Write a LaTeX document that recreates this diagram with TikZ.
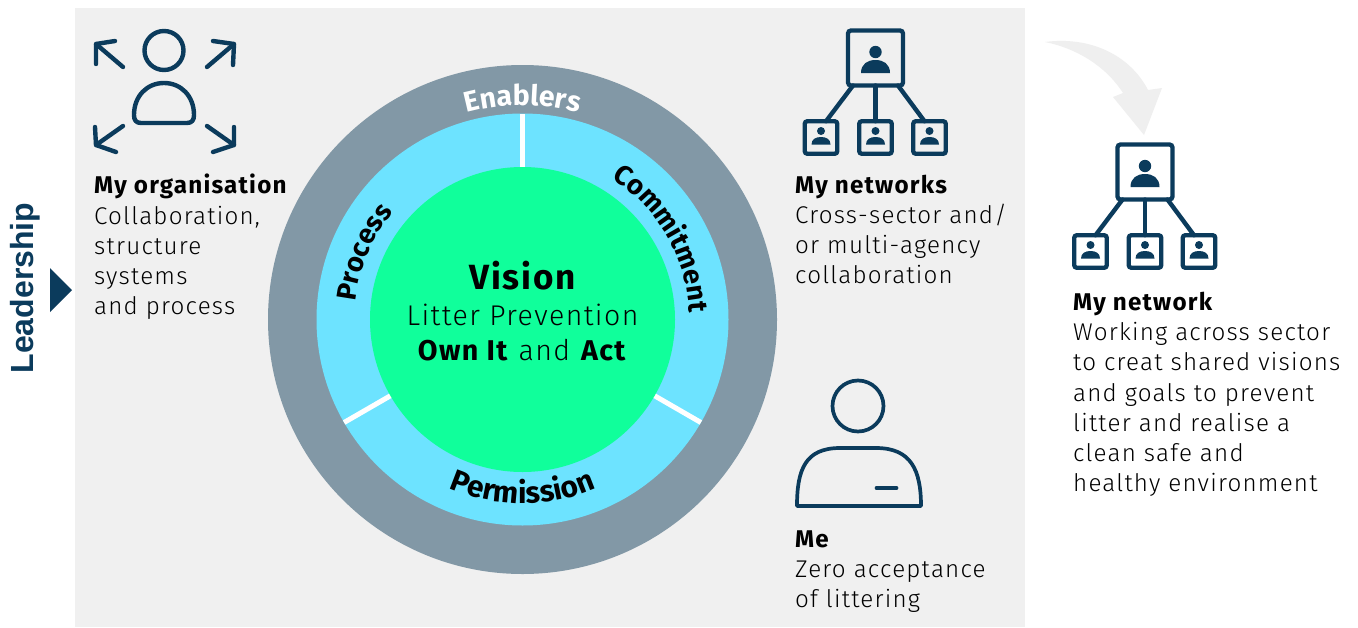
\documentclass[tikz,border=0pt]{standalone}
\usepackage{fontspec}
\setmainfont{Fira Sans}[UprightFont=* Light,BoldFont=* Bold,LetterSpace=5]
\newfontfamily\labfont{Fira Sans}[UprightFont=* Bold,LetterSpace=3]
\newfontfamily\leadfont{Liberation Sans}[UprightFont=* Bold]
\usetikzlibrary{decorations.text}
\definecolor{navy}{HTML}{0B3B5C}
\definecolor{panel}{HTML}{F0F0F0}
\definecolor{rim}{HTML}{8298A6}
\definecolor{ring}{HTML}{6DE3FF}
\definecolor{core}{HTML}{10FF9B}
\definecolor{swoosh}{HTML}{EFEFEF}
\tikzset{
  iconline/.style={draw=navy,line width=4.4pt,line cap=round,line join=round},
  bigbox/.style={draw=navy,line width=4.3pt,rounded corners=3pt,minimum size=55pt,inner sep=0pt,outer sep=0pt},
  smallbox/.style={draw=navy,line width=4.3pt,rounded corners=2.5pt,minimum size=32.5pt,inner sep=0pt,outer sep=0pt},
  blurb/.style={anchor=north west,inner sep=0pt,align=left,font=\fontsize{24.2}{30.2}\selectfont,text=black},
  netpic/.pic={
    \node[bigbox] (main) at (0,0) {};
    \node[smallbox] (a) at (-54.5,79.5) {};
    \node[smallbox] (b) at (0,79.5) {};
    \node[smallbox] (c) at (54,79.5) {};
    \draw[iconline] ([xshift=5pt]main.south west) -- ([xshift=5pt]a.north);
    \draw[iconline] (main.south) -- (b.north);
    \draw[iconline] ([xshift=-5pt]main.south east) -- ([xshift=-5pt]c.north);
    \fill[navy] (0,-6) circle[radius=6.2pt];
    \fill[navy] (-14.5,15) .. controls (-14.5,6) and (-8,2) .. (0,2) .. controls (8,2) and (14.5,6) .. (14.5,15) -- cycle;
    \foreach \n in {-54.5,0,54}{
      \fill[navy] (\n,73) circle[radius=4pt];
      \fill[navy] (\n-9.5,86.5) .. controls (\n-9.5,81) and (\n-5,79) .. (\n,79) .. controls (\n+5,79) and (\n+9.5,81) .. (\n+9.5,86.5) -- cycle;
    }
  }
}
\begin{document}
\begin{tikzpicture}[x=1pt,y=-1pt]
\useasboundingbox (0,0) rectangle (1358,627);
\fill[white] (0,0) rectangle (1358,627);
\fill[panel] (75,8) rectangle (1025,627);

% swoosh
\fill[swoosh] (1045,42) .. controls (1090,36) and (1130,55) .. (1148,90) -- (1162,88) -- (1144,135) -- (1113,97) -- (1123,93) .. controls (1105,65) and (1075,48) .. (1045,42) -- cycle;

% leadership
\node[rotate=90,inner sep=0pt,text=navy,anchor=base] (lead) at (33,288) {\fontsize{32}{34}\leadfont Leadership};
\fill[navy] (50,268) -- (72,290) -- (50,312) -- cycle;

% rings
\begin{scope}[shift={(522.5,319.5)},y=1pt]
  \fill[rim] (0,0) circle[radius=254.5pt];
  \fill[ring] (0,0) circle[radius=206pt];
  \foreach \a in {90,210,330}{
    \draw[white,line width=5pt] (\a:150pt) -- (\a:206pt);
  }
  \fill[core] (0,0) circle[radius=152.5pt];
  \path[decorate,decoration={text along path,text align=center,
     text={|\fontsize{28.5}{30}\labfont\color{white}|Enablers}}]
     (150:214pt) arc[start angle=150,end angle=30,radius=214pt];
  \path[decorate,decoration={text along path,text align=center,
     text={|\fontsize{30}{32}\labfont|Permission}}]
     (210:184pt) arc[start angle=210,end angle=330,radius=184pt];
  \path[decorate,decoration={text along path,text align=center,
     text={|\fontsize{27.5}{30}\labfont|Process}}]
     (207:168pt) arc[start angle=207,end angle=107,radius=168pt];
  \path[decorate,decoration={text along path,text align=center,
     text={|\fontsize{27.5}{30}\labfont|Commitment}}]
     (90:167pt) arc[start angle=90,end angle=-30,radius=167pt];
\end{scope}

\node[inner sep=0pt,anchor=base] (vision) at (522.5,289) {\fontsize{35}{40}\selectfont\bfseries Vision};
\node[inner sep=0pt,anchor=base] (litter) at (522.5,325) {\fontsize{28.5}{30}\selectfont Litter Prevention};
\node[inner sep=0pt,anchor=base] (own) at (522.5,360) {\fontsize{28.6}{30}\selectfont\textbf{Own It} and \textbf{Act}};

% organisation icon
\draw[iconline] (164,50.5) circle[radius=19.5pt];
\draw[iconline] (164,83) .. controls (147,83) and (134,96) .. (134,115) .. controls (134,120) and (136,123) .. (141,123) -- (187,123) .. controls (192,123) and (194,120) .. (194,115) .. controls (194,96) and (181,83) .. (164,83) -- cycle;
\draw[iconline] (123,67) -- (96,44);
\draw[iconline] (96,64) -- (96,44) -- (115,41);
\draw[iconline] (207,67) -- (234,44);
\draw[iconline] (213,41) -- (234,44) -- (233,65);
\draw[iconline] (123,126) -- (96,145);
\draw[iconline] (95,127) -- (96,145) -- (116,152);
\draw[iconline] (207,126) -- (234,145);
\draw[iconline] (234,127) -- (234,145) -- (213,152);

% network icons
\pic (netA) at (875.5,58) {netpic};
\pic (netB) at (1145,172) {netpic};

% me icon
\draw[iconline,line width=3.7pt] (858,406) circle[radius=25.5pt];
\draw[iconline,line width=3.7pt,line cap=butt] (797,506) -- (921,506);
\draw[iconline,line width=3.7pt] (797,506) .. controls (797,470) and (805,448) .. (840,448) -- (876,448) .. controls (911,448) and (921,470) .. (921,506);
\draw[iconline,line width=3.7pt] (876.5,488) -- (896.5,488);

% texts
\node[blurb] (org) at (94,174) {\textbf{My organisation}\\Collaboration,\\structure\\systems\\and process};
\node[blurb] (nets) at (795,174.5) {\textbf{My networks}\\Cross-sector and/\\or multi-agency\\collaboration};
\node[blurb] (me) at (795,530.5) {\textbf{Me}\\Zero acceptance\\of littering};
\node[blurb] (net) at (1073,292) {\textbf{My network}\\Working across sector\\to creat shared visions\\and goals to prevent\\litter and realise a\\clean safe and\\healthy environment};
\end{tikzpicture}
\end{document}
